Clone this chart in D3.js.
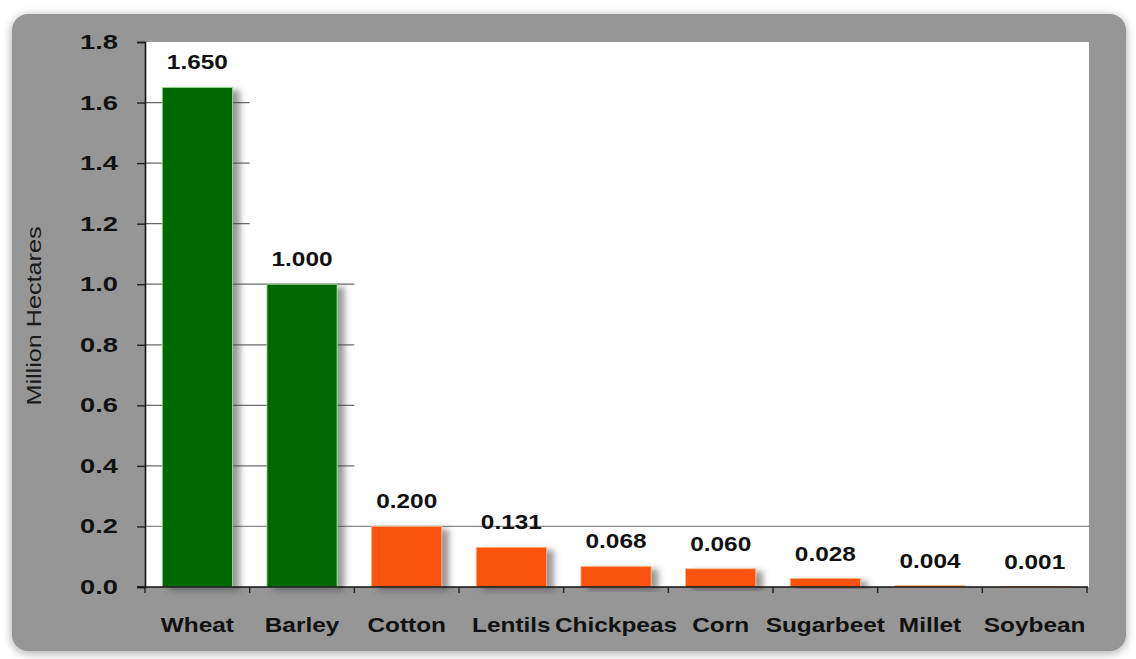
<!DOCTYPE html>
<html lang="en">
    <head>
        <meta charset="utf-8" />
        <title>Crop area chart</title>
        <script type="text/javascript" src="https://cdn.jsdelivr.net/npm/d3@7"></script>
        <style type="text/css">
            body {
                margin: 0;
                background: #ffffff;
            }
            text {
                font-family: "Liberation Sans", Arial, sans-serif;
            }
        </style>
    </head>
    <body>
        <script type="text/javascript">
            var crops = ["Wheat", "Barley", "Cotton", "Lentils", "Chickpeas", "Corn", "Sugarbeet", "Millet", "Soybean"];
            var hectares = [1.65, 1.0, 0.2, 0.131, 0.068, 0.06, 0.028, 0.004, 0.001];
            var valueLabels = ["1.650", "1.000", "0.200", "0.131", "0.068", "0.060", "0.028", "0.004", "0.001"];
            var yTicks = [0, 0.2, 0.4, 0.6, 0.8, 1.0, 1.2, 1.4, 1.6, 1.8];
            var greenCrops = ["Wheat", "Barley"];

            var w = 1136;
            var h = 659;
            var plotLeft = 145, plotRight = 1087, plotTop = 42, plotBottom = 587;

            var svg = d3.select("body")
                .append("svg")
                .attr("width", w)
                .attr("height", h);

            var defs = svg.append("defs");
            var panelShadow = defs.append("filter")
                .attr("id", "panelShadow")
                .attr("x", "-5%").attr("y", "-5%")
                .attr("width", "110%").attr("height", "110%");
            panelShadow.append("feDropShadow")
                .attr("dx", 0).attr("dy", 2)
                .attr("stdDeviation", 5)
                .attr("flood-color", "#000")
                .attr("flood-opacity", 0.35);

            var barShadow = defs.append("filter")
                .attr("id", "barShadow")
                .attr("x", "-20%").attr("y", "-20%")
                .attr("width", "150%").attr("height", "140%");
            barShadow.append("feDropShadow")
                .attr("dx", 7).attr("dy", 3)
                .attr("stdDeviation", 3)
                .attr("flood-color", "#444")
                .attr("flood-opacity", 0.55);

            // grey frame
            svg.append("rect")
                .attr("x", 12).attr("y", 14)
                .attr("width", 1114).attr("height", 637)
                .attr("rx", 16)
                .attr("fill", "#969696")
                .attr("filter", "url(#panelShadow)");

            // plot background
            svg.append("rect")
                .attr("x", plotLeft).attr("y", plotTop)
                .attr("width", plotRight - plotLeft + 2).attr("height", plotBottom - plotTop)
                .attr("fill", "#ffffff");

            var xScale = d3.scaleBand()
                .domain(crops)
                .range([plotLeft, plotRight])
                .paddingInner(0.33)
                .paddingOuter(0.165);

            var yScale = d3.scaleLinear()
                .domain([0, 1.8])
                .range([plotBottom, plotTop]);

            var halfGap = xScale.step() * xScale.paddingInner() / 2;

            // gridlines: they only show beside the tall green bars, except 0.2 which runs across
            function gridEnd(t) {
                if (Math.abs(t - 0.2) < 1e-9) return plotRight + 2;
                var last = 0;
                greenCrops.forEach(function(c) {
                    if (hectares[crops.indexOf(c)] >= t - 1e-9) last = crops.indexOf(c);
                });
                return xScale(crops[last + 1]) - halfGap;
            }
            svg.append("g")
                .selectAll("line")
                .data(yTicks.filter(function(d) { return d > 0 && d < 1.8; }))
                .enter()
                .append("line")
                .attr("x1", plotLeft)
                .attr("x2", function(d) { return gridEnd(d); })
                .attr("y1", function(d) { return yScale(d); })
                .attr("y2", function(d) { return yScale(d); })
                .attr("stroke", function(d) {
                    return Math.abs(d - 0.2) < 1e-9 ? "#8a8a8a" : "#6a6a6a";
                })
                .attr("stroke-width", 1.2);

            // bars
            svg.append("g")
                .selectAll("rect")
                .data(crops)
                .enter()
                .append("rect")
                .attr("x", function(d) { return xScale(d); })
                .attr("y", function(d, i) { return yScale(hectares[i]); })
                .attr("width", xScale.bandwidth())
                .attr("height", function(d, i) { return plotBottom - yScale(hectares[i]); })
                .attr("fill", function(d) {
                    return greenCrops.indexOf(d) >= 0 ? "#066806" : "#fb520a";
                })
                .attr("stroke", function(d) {
                    return greenCrops.indexOf(d) >= 0 ? "#9be39b" : "#ffb080";
                })
                .attr("stroke-width", 0.8)
                .attr("filter", "url(#barShadow)");

            // stretched text helper
            function stretched(g, x, y, str, size, weight, sx, anchor) {
                g.append("text")
                    .attr("transform", "translate(" + x + "," + y + ") scale(" + sx + ",1)")
                    .attr("text-anchor", anchor)
                    .attr("font-size", size)
                    .attr("font-weight", weight)
                    .attr("fill", "#111")
                    .text(str);
            }

            // value labels
            var vl = svg.append("g");
            crops.forEach(function(d, i) {
                stretched(vl, xScale(d) + xScale.bandwidth() / 2, yScale(hectares[i]) - 18,
                    valueLabels[i], 20, "bold", 1.22, "middle");
            });

            // y axis
            var yAxis = d3.axisLeft(yScale)
                .tickValues(yTicks)
                .tickSize(8)
                .tickFormat("");
            svg.append("g")
                .attr("transform", "translate(" + plotLeft + ",0)")
                .call(yAxis)
                .call(function(g) {
                    g.select(".domain").attr("stroke", "#111").attr("stroke-width", 1.6);
                    g.selectAll(".tick line").attr("stroke", "#222").attr("stroke-width", 1.4);
                });
            var yl = svg.append("g");
            yTicks.forEach(function(t) {
                stretched(yl, 118, yScale(t) + 7, d3.format(".1f")(t), 21, "bold", 1.3, "end");
            });

            // x axis
            var xTickPos = d3.range(crops.length + 1).map(function(i) {
                return i === crops.length ? plotRight : xScale(crops[i]) - halfGap;
            });
            svg.append("line")
                .attr("x1", plotLeft - 8).attr("x2", plotRight + 1)
                .attr("y1", plotBottom).attr("y2", plotBottom)
                .attr("stroke", "#111").attr("stroke-width", 1.6);
            svg.append("g")
                .selectAll("line")
                .data(xTickPos)
                .enter()
                .append("line")
                .attr("x1", function(d) { return d; })
                .attr("x2", function(d) { return d; })
                .attr("y1", plotBottom)
                .attr("y2", plotBottom + 6)
                .attr("stroke", "#222")
                .attr("stroke-width", 1.4);

            var xl = svg.append("g");
            crops.forEach(function(d) {
                stretched(xl, xScale(d) + xScale.bandwidth() / 2, 632, d, 20, "bold", 1.22, "middle");
            });

            // y axis title
            svg.append("text")
                .attr("transform", "translate(41,316) rotate(-90) scale(1.26,1)")
                .attr("text-anchor", "middle")
                .attr("font-size", 20)
                .attr("fill", "#1a1a1a")
                .text("Million Hectares");
        </script>
    </body>
</html>
